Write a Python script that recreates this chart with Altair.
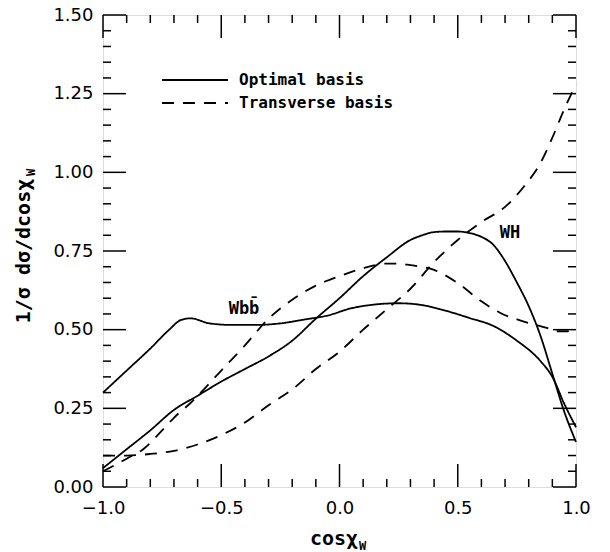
import altair as alt
import pandas as pd

# ---------------- data ----------------
wbb_opt_x = [-1.0, -0.9, -0.8, -0.72, -0.67, -0.63, -0.55, -0.45, -0.35, -0.25, -0.15, -0.05,
             0.05, 0.15, 0.25, 0.35, 0.45, 0.55, 0.65, 0.75, 0.85, 0.9, 0.95, 1.0]
wbb_opt_y = [0.30, 0.37, 0.44, 0.50, 0.531, 0.536, 0.52, 0.515, 0.515, 0.52, 0.532, 0.545,
             0.568, 0.58, 0.584, 0.578, 0.56, 0.537, 0.512, 0.465, 0.40, 0.35, 0.265, 0.19]

wh_opt_x = [-1.0, -0.9, -0.8, -0.7, -0.6, -0.5, -0.4, -0.3, -0.2, -0.1, 0.0, 0.1, 0.2, 0.3,
            0.35, 0.4, 0.45, 0.5, 0.55, 0.6, 0.65, 0.7, 0.75, 0.8, 0.85, 0.9, 0.95, 1.0]
wh_opt_y = [0.06, 0.12, 0.18, 0.245, 0.29, 0.335, 0.375, 0.415, 0.465, 0.535, 0.60, 0.67, 0.73, 0.785,
            0.80, 0.81, 0.812, 0.812, 0.807, 0.795, 0.77, 0.718, 0.65, 0.575, 0.48, 0.36, 0.24, 0.143]

wbb_tr_x = [-1.0, -0.9, -0.83, -0.75, -0.7, -0.63, -0.5, -0.4, -0.3, -0.2, -0.1, 0.0, 0.1, 0.2,
            0.25, 0.3, 0.4, 0.5, 0.6, 0.68, 0.77, 0.88, 0.92, 1.0]
wbb_tr_y = [0.05, 0.09, 0.12, 0.18, 0.22, 0.267, 0.37, 0.45, 0.535, 0.595, 0.64, 0.67, 0.695, 0.71,
            0.71, 0.705, 0.69, 0.648, 0.59, 0.553, 0.528, 0.505, 0.495, 0.495]

wh_tr_x = [-1.0, -0.9, -0.8, -0.7, -0.6, -0.5, -0.4, -0.3, -0.2, -0.1, 0.0, 0.1, 0.2, 0.3, 0.4,
           0.5, 0.6, 0.7, 0.78, 0.85, 0.9, 0.95, 1.0]
wh_tr_y = [0.10, 0.10, 0.105, 0.115, 0.135, 0.165, 0.205, 0.26, 0.31, 0.375, 0.43, 0.50, 0.565, 0.63, 0.715,
           0.785, 0.842, 0.89, 0.955, 1.03, 1.11, 1.20, 1.28]

x_major = [-1.0, -0.5, 0.0, 0.5, 1.0]
x_minor = [-0.9, -0.8, -0.7, -0.6, -0.4, -0.3, -0.2, -0.1, 0.1, 0.2, 0.3, 0.4, 0.6, 0.7, 0.8, 0.9]
y_major = [0.0, 0.25, 0.5, 0.75, 1.0, 1.25, 1.5]
y_minor = [0.05, 0.1, 0.15, 0.2, 0.3, 0.35, 0.4, 0.45, 0.55, 0.6, 0.65, 0.7,
           0.8, 0.85, 0.9, 0.95, 1.05, 1.1, 1.15, 1.2, 1.3, 1.35, 1.4, 1.45]

legend_labels = ["Optimal basis", "Transverse basis"]
process_labels = ["Wbb\u0304", "WH"]

# ---------------- build table ----------------
rows = []
for curve, basis, xs_, ys_ in [
    ("Wbb", "Optimal basis", wbb_opt_x, wbb_opt_y),
    ("WH", "Optimal basis", wh_opt_x, wh_opt_y),
    ("Wbb", "Transverse basis", wbb_tr_x, wbb_tr_y),
    ("WH", "Transverse basis", wh_tr_x, wh_tr_y),
]:
    for a, b in zip(xs_, ys_):
        rows.append({"x": a, "y": b, "curve": curve + " " + basis, "basis": basis})
df = pd.DataFrame(rows)

W, H = 473, 472
MAJ, MIN = 23, 8
DASH = [12, 9]
MONO = "DejaVu Sans Mono"

xscale = alt.Scale(domain=[-1, 1], nice=False, zero=False)
yscale = alt.Scale(domain=[0, 1.5], nice=False, zero=False)

x_axis = alt.Axis(values=x_major, format=".1f", title=None, domain=False, ticks=False,
                  grid=False, labelFont="DejaVu Sans", labelFontSize=18, labelColor="black",
                  labelPadding=12, labelFlush=False)
y_axis = alt.Axis(values=y_major, format=".2f", title=None, domain=False, ticks=False,
                  grid=False, labelFont="DejaVu Sans", labelFontSize=18, labelColor="black",
                  labelPadding=10, labelFlush=False)

curves = alt.Chart(df).mark_line(interpolate="monotone", strokeWidth=1.8, color="black").encode(
    x=alt.X("x:Q", scale=xscale, axis=x_axis),
    y=alt.Y("y:Q", scale=yscale, axis=y_axis),
    strokeDash=alt.StrokeDash("basis:N", scale=alt.Scale(domain=legend_labels, range=[[1, 0], DASH]),
                              legend=None),
    detail="curve:N",
)

xmaj = pd.DataFrame({"v": x_major})
xmin = pd.DataFrame({"v": x_minor})
ymaj = pd.DataFrame({"v": y_major})
ymin = pd.DataFrame({"v": y_minor})


def xticks(d, length):
    bottom = alt.Chart(d).mark_rule(color="black", strokeWidth=1.5).encode(
        x=alt.X("v:Q", scale=xscale, axis=x_axis), y=alt.value(H), y2=alt.value(H - length))
    top = alt.Chart(d).mark_rule(color="black", strokeWidth=1.5).encode(
        x=alt.X("v:Q", scale=xscale, axis=x_axis), y=alt.value(0), y2=alt.value(length))
    return [bottom, top]


def yticks(d, length):
    left = alt.Chart(d).mark_rule(color="black", strokeWidth=1.5).encode(
        y=alt.Y("v:Q", scale=yscale, axis=y_axis), x=alt.value(0), x2=alt.value(length))
    right = alt.Chart(d).mark_rule(color="black", strokeWidth=1.5).encode(
        y=alt.Y("v:Q", scale=yscale, axis=y_axis), x=alt.value(W), x2=alt.value(W - length))
    return [left, right]


ticks = xticks(xmaj, MAJ) + xticks(xmin, MIN) + yticks(ymaj, MAJ) + yticks(ymin, MIN)

one = pd.DataFrame({"t": [legend_labels[0]]})
two = pd.DataFrame({"t": [legend_labels[1]]})

leg1 = alt.Chart(one).mark_rule(color="black", strokeWidth=1.8).encode(
    x=alt.value(59), x2=alt.value(125), y=alt.value(65))
leg2 = alt.Chart(two).mark_rule(color="black", strokeWidth=1.8, strokeDash=DASH).encode(
    x=alt.value(59), x2=alt.value(125), y=alt.value(88))
legt1 = alt.Chart(one).mark_text(font=MONO, fontSize=16, fontWeight="bold", align="left",
                                  baseline="middle", color="black").encode(
    text="t:N", x=alt.value(136), y=alt.value(65))
legt2 = alt.Chart(two).mark_text(font=MONO, fontSize=16, fontWeight="bold", align="left",
                                  baseline="middle", color="black").encode(
    text="t:N", x=alt.value(136), y=alt.value(88))

lab1 = alt.Chart(pd.DataFrame({"t": [process_labels[0]]})).mark_text(
    font=MONO, fontSize=17, fontWeight="bold", align="center", baseline="middle", color="black").encode(
    text="t:N", x=alt.value(141), y=alt.value(294))
lab2 = alt.Chart(pd.DataFrame({"t": [process_labels[1]]})).mark_text(
    font=MONO, fontSize=17, fontWeight="bold", align="center", baseline="middle", color="black").encode(
    text="t:N", x=alt.value(407), y=alt.value(218))

xt = alt.Chart(pd.DataFrame({"t": ["cos\u03c7"]})).mark_text(
    font=MONO, fontSize=20, fontWeight="bold", align="center", baseline="middle", color="black").encode(
    text="t:N", x=alt.value(231), y=alt.value(524))
xt_sub = alt.Chart(pd.DataFrame({"t": ["W"]})).mark_text(
    font=MONO, fontSize=12, fontWeight="bold", align="left", baseline="middle", color="black").encode(
    text="t:N", x=alt.value(256), y=alt.value(531))

yt = alt.Chart(pd.DataFrame({"t": ["1/\u03c3 d\u03c3/dcos\u03c7"]})).mark_text(
    font=MONO, fontSize=20, fontWeight="bold", align="center", baseline="middle", angle=270,
    color="black").encode(text="t:N", x=alt.value(-79), y=alt.value(236))
yt_sub = alt.Chart(pd.DataFrame({"t": ["W"]})).mark_text(
    font=MONO, fontSize=12, fontWeight="bold", align="left", baseline="middle", angle=270,
    color="black").encode(text="t:N", x=alt.value(-72), y=alt.value(161))

chart = alt.layer(
    curves, *ticks, leg1, leg2, legt1, legt2, lab1, lab2, xt, xt_sub, yt, yt_sub
).properties(
    width=W, height=H,
    padding={"left": 103, "top": 15, "right": 34, "bottom": 65},
    autosize=alt.AutoSizeParams(type="none"),
).configure_view(stroke="black", strokeWidth=2).configure(background="white")

chart.save("out.html", embed_options={"renderer": "svg", "actions": False})
